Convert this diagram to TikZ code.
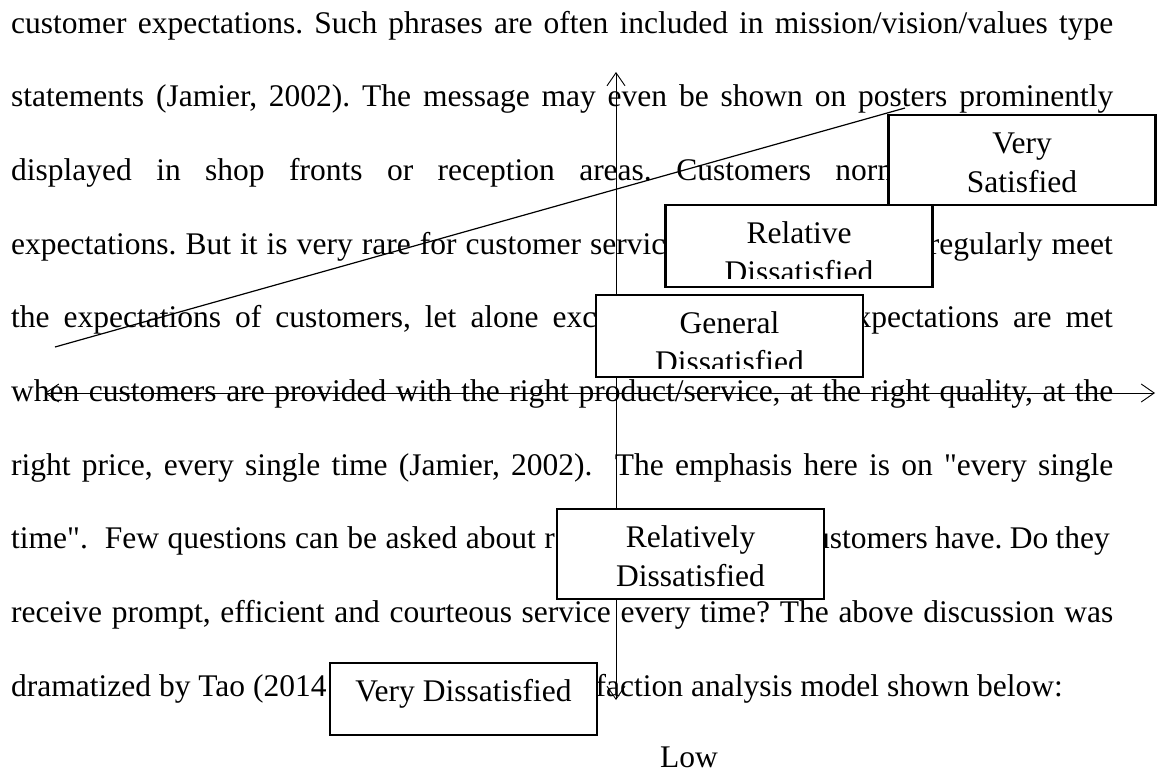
\documentclass[tikz,border=0pt]{standalone}
\usepackage{fontspec}
\setmainfont{Liberation Serif}[Ligatures=TeXOff]
\usetikzlibrary{arrows.meta}

\newcommand\bodyfont{\fontsize{31.5pt}{39.5pt}\selectfont\frenchspacing}
\newcommand\fullline[1]{\makebox[1102pt][s]{#1}}
\newcommand\spaced[2]{{\spaceskip=#1\relax #2}}
\newcommand\dq{\char"22\relax}

\tikzset{
  textline/.style={anchor=base west, inner sep=0pt, font=\bodyfont},
  textright/.style={anchor=base east, inner sep=0pt, font=\bodyfont},
  levelbox/.style={draw, line width=2.3pt, fill=white, inner sep=0pt, minimum width=267pt},
  boxlabel/.style={anchor=base, inner sep=0pt, font=\bodyfont},
  axis/.style={line width=0.9pt, {Straight Barb[length=13pt,width=18pt]}-{Straight Barb[length=13pt,width=18pt]}},
  slope/.style={line width=1.2pt}
}

\begin{document}
\begin{tikzpicture}[x=1pt,y=-1pt]
\fill[white] (0,0) rectangle (1165,774);
\useasboundingbox (0,0) rectangle (1165,774);

\node[textline] (l1) at (11,33) {\fullline{customer expectations. Such phrases are often included in mission/vision/values type}};
\node[textline] (l2) at (11,106.7) {\fullline{statements (Jamier, 2002). The message may even be shown on posters prominently}};
\node[textline] (l3) at (11,180.3) {\spaced{24.4pt}{displayed in shop fronts or reception areas. Customers norm}};
\node[textline] (l4a) at (11,254) {\spaced{9.06pt}{expectations. But it is very rare for customer servic}};
\node[textright] (l4b) at (1113,254) {\spaced{9pt}{regularly meet}};
\node[textline] (l5a) at (11,327.7) {\spaced{14pt}{the expectations of customers, let alone exc}};
\node[textright] (l5b) at (1113,327.7) {\spaced{14pt}{xpectations are met}};
\node[textline] (l6) at (11,401.3) {\fullline{when customers are provided with the right product/service, at the right quality, at the}};
\node[textline] (l7) at (11,475) {\fullline{right price, every single time (Jamier, 2002). \ The emphasis here is on \dq every single}};
\node[textline] (l8a) at (11,548.7) {\spaced{8.5pt}{time\dq. \ Few questions can be asked about re}};
\node[textline] (l8b) at (814,548.7) {\spaced{7.3pt}{ustomers have. Do they}};
\node[textline] (l9) at (11,622.4) {\fullline{receive prompt, efficient and courteous service every time? The above discussion was}};
\node[textline] (l10a) at (11,696) {dramatized by Tao (2014};
\node[textline] (l10b) at (595.5,696) {faction analysis model shown below:};
\node[boxlabel] (low) at (689,767) {Low};

\coordinate (vtop) at (616,72);
\coordinate (vbot) at (616,700);
\coordinate (hleft) at (45,393);
\coordinate (hright) at (1155,393);
\coordinate (dlow) at (55,347);
\coordinate (dhigh) at (905,108);
\draw[axis] (vbot) -- (vtop);
\draw[axis] (hleft) -- (hright);
\draw[slope] (dlow) -- (dhigh);

\node[levelbox, minimum height=90pt] (vsat) at (1022,160) {};
\node[boxlabel] (vsat1) at ([yshift=-40pt]vsat.north) {Very};
\node[boxlabel] (vsat2) at ([yshift=-79pt]vsat.north) {Satisfied};

\node[levelbox, minimum height=82pt] (reldis) at (799,246) {};
\begin{scope}
\clip ([shift={(2pt,-2pt)}]reldis.north west) rectangle ([shift={(-2pt,10pt)}]reldis.south east);
\node[boxlabel] (reldis1) at ([yshift=-39.5pt]reldis.north) {Relative};
\node[boxlabel] (reldis2) at ([yshift=-79pt]reldis.north) {Dissatisfied};
\end{scope}

\node[levelbox, minimum height=82pt] (gendis) at (729.5,336) {};
\begin{scope}
\clip ([shift={(2pt,-2pt)}]gendis.north west) rectangle ([shift={(-2pt,10pt)}]gendis.south east);
\node[boxlabel] (gendis1) at ([yshift=-39.5pt]gendis.north) {General};
\node[boxlabel] (gendis2) at ([yshift=-79pt]gendis.north) {Dissatisfied};
\end{scope}

\node[levelbox, minimum height=90pt] (rlydis) at (690.5,554) {};
\node[boxlabel] (rlydis1) at ([yshift=-39.5pt]rlydis.north) {Relatively};
\node[boxlabel] (rlydis2) at ([yshift=-79pt]rlydis.north) {Dissatisfied};

\node[levelbox, minimum height=72pt] (vdis) at (463.5,699) {};
\node[boxlabel] (vdis1) at ([yshift=-40pt]vdis.north) {Very Dissatisfied};

\end{tikzpicture}
\end{document}
